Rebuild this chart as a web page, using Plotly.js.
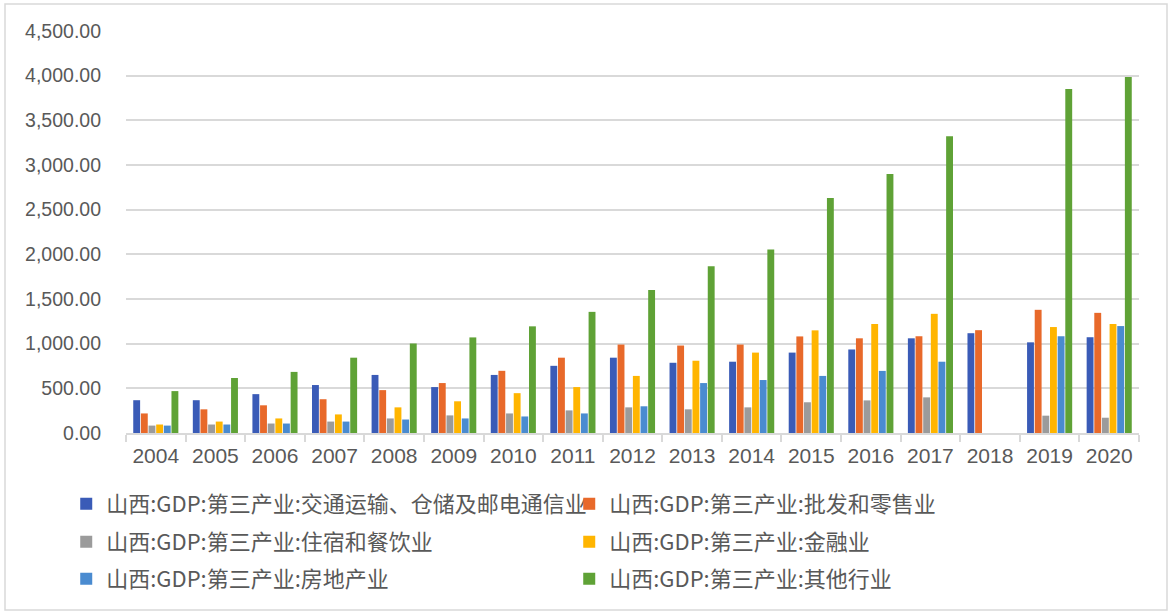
<!DOCTYPE html>
<html>
<head>
<meta charset="utf-8">
<script src="https://cdn.plot.ly/plotly-3.0.1.min.js"></script>
<style>
html,body{margin:0;padding:0;background:#fff;}
#chart{width:1172px;height:616px;}
</style>
</head>
<body>
<div id="chart"></div>
<script>
var years = ['2004','2005','2006','2007','2008','2009','2010','2011','2012','2013','2014','2015','2016','2017','2018','2019','2020'];
var transport = [367,367,435,537,650,514,650,752,843,786,798,900,935,1060,1117,1015,1072];
var wholesale = [219,265,310,378,480,559,696,843,990,979,990,1081,1060,1083,1151,1379,1345];
var hotel = [83,95,106,128,163,197,219,253,287,265,287,344,365,399,null,194,171];
var finance = [95,128,163,208,287,355,446,514,639,809,900,1149,1220,1334,null,1186,1220];
var realestate = [83,95,106,128,151,163,185,219,299,559,593,639,695,798,null,1083,1197];
var other = [469,616,684,843,1002,1070,1194,1356,1600,1866,2054,2631,2900,3322,null,3851,3985];

var seriesNames = [
  '山西:GDP:第三产业:交通运输、仓储及邮电通信业',
  '山西:GDP:第三产业:批发和零售业',
  '山西:GDP:第三产业:住宿和餐饮业',
  '山西:GDP:第三产业:金融业',
  '山西:GDP:第三产业:房地产业',
  '山西:GDP:第三产业:其他行业'
];
var seriesValues = [transport, wholesale, hotel, finance, realestate, other];
var colors = ['#3A5BB7','#E8692A','#9B9B9B','#FFB500','#4A8BD0','#5FA236'];
var legendIds = ['legend','legend','legend2','legend2','legend3','legend3'];

var traces = seriesNames.map(function(n,i){
  return {type:'bar', name:n, x:years, y:seriesValues[i], marker:{color:colors[i]},
          legend:legendIds[i], hoverinfo:'x+y+name'};
});

var FONT = 'Liberation Sans, Arial, Noto Sans CJK SC, sans-serif';
function leg(py){
  return {
    orientation:'h', x:-0.059, xanchor:'left', y:(433-py)/402, yanchor:'middle',
    font:{size:22, color:'#595959', family:'Noto Sans CJK SC, sans-serif'},
    entrywidth:458, entrywidthmode:'pixels', itemwidth:30,
    traceorder:'normal', bgcolor:'rgba(0,0,0,0)'
  };
}
var layout = {
  width:1172, height:616,
  margin:{l:126, r:33, t:31, b:183},
  paper_bgcolor:'#ffffff', plot_bgcolor:'#ffffff',
  barmode:'group', bargap:0.23, bargroupgap:0.1,
  font:{family:FONT, color:'#595959'},
  xaxis:{
    type:'category', showline:true, linecolor:'#d9d9d9', linewidth:2,
    ticks:'outside', tickson:'boundaries', ticklen:7, tickcolor:'#d9d9d9', tickwidth:2,
    showgrid:false, tickfont:{size:21, color:'#595959'}, ticklabelstandoff:3
  },
  yaxis:{
    range:[0,4500], tickvals:[0,500,1000,1500,2000,2500,3000,3500,4000,4500],
    tickformat:',.2f', showgrid:true, gridcolor:'#d9d9d9', gridwidth:2,
    zeroline:false, showline:false, ticks:'',
    tickfont:{size:19.5, color:'#595959'}, ticklabelstandoff:24
  },
  showlegend:true,
  legend:leg(504),
  legend2:leg(542),
  legend3:leg(579),
  shapes:[{type:'rect', xref:'paper', yref:'paper',
    x0:(5-126)/1013, x1:(1167-126)/1013, y0:(433-610)/402, y1:(433-4)/402,
    line:{color:'#d9d9d9', width:1.5}, fillcolor:'rgba(0,0,0,0)', layer:'below'}]
};
Plotly.newPlot('chart', traces, layout, {displayModeBar:false, staticPlot:true});
</script>
</body>
</html>
